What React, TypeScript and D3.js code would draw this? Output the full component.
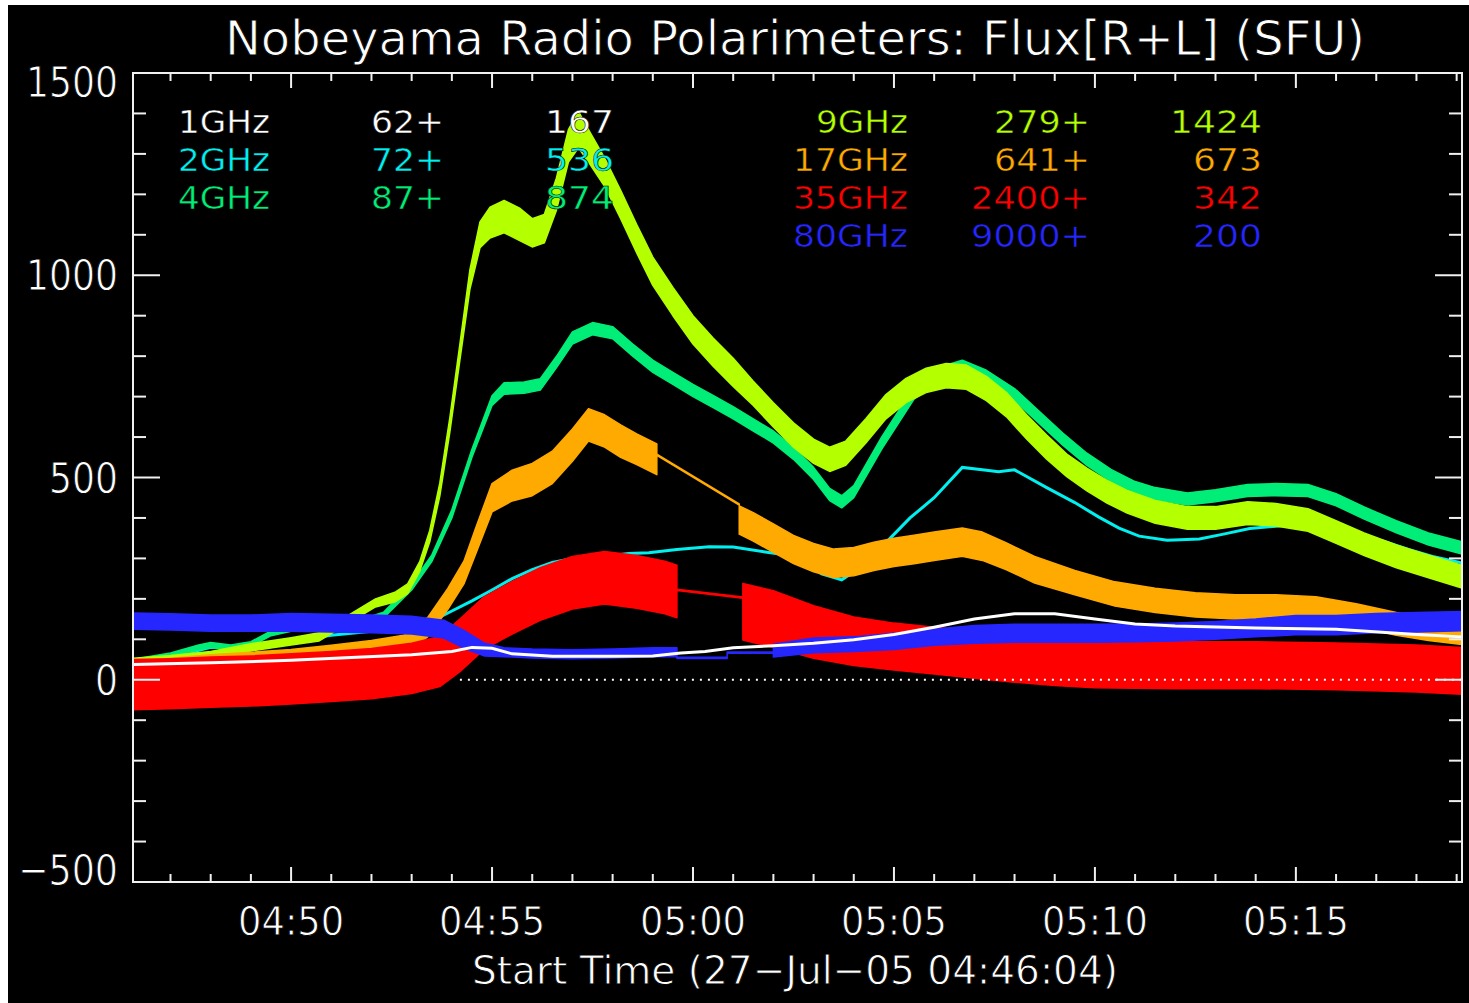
import React from 'react';
import * as d3 from 'd3';

const W = 1469;
const H = 1003;
const plot = { left: 133, right: 1462, top: 73, bottom: 882 };

// time axis: minutes past 04:00 UT on 27-Jul-2005
const day0 = Date.UTC(2005, 6, 27, 4, 0, 0);
const toDate = (m: number) => new Date(day0 + m * 60000);
const tStart = 46 + 4 / 60; // 04:46:04
const tEnd = 79 + 8 / 60; // 05:19:08

// [minute past 04:00, value (SFU), half spread of the noisy trace (SFU)]
const f1GHz: number[][] = [
  [46.07, 38, 1], [48, 42, 1], [50, 48, 1], [51.5, 55, 1], [53, 62, 1], [54.0, 70, 1], [54.5, 80, 1],
  [55.0, 78, 1], [55.5, 64, 1], [56.5, 58, 1], [58, 58, 1], [59.0, 59, 1], [59.7, 66, 1], [60.3, 70, 1],
  [61, 79, 1], [62, 84, 1], [63, 90, 1], [64, 99, 1], [65, 112, 1], [66, 130, 1], [67, 150, 1],
  [68, 163, 1], [69, 163, 1], [70, 150, 1], [71, 138, 1], [72, 133, 1], [74, 128, 1], [76, 125, 1],
  [78, 112, 1], [79.13, 106, 1],
];

const f2GHz: number[][] = [
  [46.07, 42, 2], [47.0, 55, 2], [48.0, 80, 2], [49.0, 82, 2], [50.0, 95, 2], [51.0, 110, 2], [52.0, 120, 2],
  [53.0, 135, 2], [53.6, 150, 2], [54.0, 170, 2], [54.5, 195, 2], [55.0, 222, 2], [55.5, 250, 2],
  [56.0, 272, 2], [56.5, 290, 2], [57.0, 300, 2], [57.7, 304, 2], [58.4, 312, 2], [58.9, 314, 2],
  [59.6, 322, 2], [60.4, 329, 2], [61.0, 328, 2], [61.8, 316, 2], [62.2, 310, 2], [62.7, 297, 2],
  [63.2, 262, 2], [63.7, 247, 2], [64.15, 277, 2], [64.8, 339, 2], [65.4, 400, 2], [66.0, 450, 2],
  [66.7, 525, 2], [67.2, 519, 2], [67.6, 514, 2], [68.0, 519, 2], [68.8, 475, 2], [69.5, 438, 2],
  [70.1, 402, 2], [70.6, 375, 2], [71.1, 355, 2], [71.8, 345, 2], [72.6, 348, 2], [73.2, 360, 2],
  [73.85, 374, 2], [74.8, 382, 2], [75.9, 375, 2], [76.5, 360, 2], [77.2, 342, 2], [77.8, 322, 2],
  [78.4, 305, 2], [79.13, 289, 2],
];

const f4GHz: number[][] = [
  [46.07, 45, 6], [47.0, 60, 6], [47.7, 80, 6], [48.0, 86, 6], [48.5, 80, 6], [49.0, 88, 6], [49.5, 115, 6],
  [50.0, 126, 6], [50.7, 128, 6], [51.5, 135, 6], [52.3, 160, 7], [53.0, 230, 8], [53.5, 300, 8],
  [54.0, 410, 10], [54.5, 560, 10], [55.0, 690, 12], [55.3, 720, 14], [55.8, 722, 14], [56.2, 730, 14],
  [56.6, 785, 14], [57.0, 845, 15], [57.5, 868, 15], [58.0, 858, 15], [58.5, 815, 15], [59.0, 775, 15],
  [59.5, 745, 15], [60.0, 715, 15], [60.5, 688, 15], [61.0, 660, 15], [61.5, 630, 15], [62.0, 600, 15],
  [62.5, 560, 15], [63.0, 510, 15], [63.4, 458, 15], [63.7, 440, 15], [64.0, 465, 15], [64.7, 586, 15],
  [65.5, 709, 15], [66.2, 760, 15], [66.7, 775, 15], [67.3, 750, 15], [68.0, 705, 15], [68.6, 650, 15],
  [69.2, 595, 15], [69.8, 545, 15], [70.4, 505, 15], [71.0, 475, 15], [71.5, 460, 15], [72.3, 447, 15],
  [73.0, 455, 15], [73.8, 468, 15], [74.5, 470, 15], [75.3, 468, 15], [76.0, 445, 15], [76.7, 412, 15],
  [77.5, 378, 15], [78.3, 348, 15], [79.13, 326, 15],
];

const f9GHz: number[][] = [
  [46.07, 45, 8], [47.0, 52, 8], [48.0, 62, 8], [49.0, 80, 9], [50.0, 95, 9], [50.7, 106, 10],
  [51.4, 148, 10], [52.1, 190, 10], [52.6, 205, 12], [52.9, 225, 12], [53.2, 280, 12], [53.45, 355, 14],
  [53.7, 470, 16], [53.95, 630, 18], [54.2, 810, 20], [54.45, 990, 24], [54.7, 1100, 32], [54.95, 1130, 38],
  [55.3, 1145, 40], [55.7, 1125, 40], [56.0, 1105, 35], [56.3, 1115, 35], [56.6, 1200, 40], [56.9, 1320, 40],
  [57.15, 1360, 45], [57.4, 1320, 40], [57.8, 1255, 35], [58.2, 1175, 35], [58.6, 1090, 35], [59.0, 1010, 35],
  [59.5, 935, 35], [60.0, 865, 35], [60.5, 810, 35], [61.0, 760, 35], [61.5, 708, 30], [62.0, 655, 30],
  [62.5, 605, 30], [63.0, 565, 30], [63.4, 545, 30], [63.8, 560, 30], [64.3, 615, 30], [64.8, 675, 30],
  [65.3, 715, 30], [65.8, 740, 30], [66.3, 752, 30], [66.8, 748, 30], [67.3, 720, 30], [67.8, 680, 30],
  [68.3, 625, 30], [68.8, 575, 30], [69.3, 530, 28], [69.8, 495, 28], [70.3, 465, 28], [70.8, 440, 28],
  [71.5, 415, 28], [72.3, 400, 28], [73.0, 400, 28], [73.8, 412, 28], [74.5, 408, 28], [75.3, 395, 28],
  [76.0, 365, 28], [76.7, 335, 28], [77.5, 305, 28], [78.3, 280, 28], [79.13, 255, 28],
];

const f17GHz: number[][] = [
  [46.07, 28, 18], [47, 35, 18], [48, 42, 20], [49, 48, 20], [50, 55, 20], [51, 65, 20], [52, 75, 22],
  [52.8, 88, 22], [53.4, 130, 24], [53.9, 200, 26], [54.3, 265, 28], [54.6, 345, 32], [55.0, 450, 35],
  [55.5, 480, 38], [56.0, 495, 40], [56.5, 525, 40], [57.0, 580, 40], [57.4, 630, 40], [57.8, 615, 40],
  [58.2, 590, 40], [58.6, 570, 38], [59.1, 545, 38],
  [59.1, 556, 1.5], [61.15, 433, 1.5],
  [61.15, 395, 35], [61.5, 378, 35], [62.0, 350, 35], [62.5, 322, 35], [63.0, 302, 35], [63.5, 288, 35],
  [64.0, 292, 35], [64.5, 305, 35], [65.0, 315, 35], [65.5, 322, 35], [66.0, 330, 35], [66.7, 340, 35],
  [67.2, 330, 35], [67.8, 305, 33], [68.5, 272, 33], [69.5, 240, 30], [70.5, 212, 30], [71.5, 196, 30],
  [72.5, 185, 30], [73.5, 180, 30], [74.5, 180, 30], [75.5, 175, 30], [76.5, 160, 28], [77.5, 138, 28],
  [78.3, 125, 28], [79.13, 115, 28],
];

const f35GHz: number[][] = [
  [46.07, -12, 62], [47, -10, 62], [48, -6, 62], [49, -3, 62], [50, 2, 62], [51, 8, 62], [52, 15, 62],
  [53, 28, 62], [53.7, 45, 62], [54.2, 85, 65], [54.8, 140, 65], [55.5, 178, 65], [56.2, 212, 65],
  [57.0, 240, 65], [57.8, 252, 65], [58.6, 242, 65], [59.3, 228, 65], [59.6, 218, 65],
  [59.6, 222, 1.5], [61.24, 203, 1.5],
  [61.24, 168, 70], [62, 150, 70], [63, 118, 65], [64, 95, 60], [65, 82, 58], [66, 72, 58], [67, 62, 58],
  [68, 52, 58], [69, 44, 58], [70, 38, 58], [72, 36, 58], [74, 36, 58], [76, 33, 58], [78, 28, 58],
  [79.13, 22, 58],
];

const f80GHz: number[][] = [
  [46.07, 145, 20], [47, 143, 20], [48, 140, 20], [49, 140, 20], [50, 142, 22], [51, 140, 22], [52, 138, 22],
  [53, 135, 22], [53.8, 125, 22], [54.3, 100, 22], [54.8, 75, 16], [55.3, 68, 11], [56, 65, 11], [57, 63, 11],
  [58, 65, 11], [59, 68, 11], [59.6, 68, 11],
  [59.6, 54, 1.5], [60.85, 54, 1.5], [60.85, 67, 1.5], [62.0, 67, 1.5],
  [62.0, 72, 16], [63, 85, 18], [64, 88, 18], [65, 95, 20], [66, 105, 20], [67, 112, 22], [68, 115, 22],
  [69, 115, 22], [70, 115, 22], [71, 116, 22], [72, 118, 22], [73, 122, 22], [74, 128, 22], [75, 135, 24],
  [76, 135, 24], [77, 140, 24], [78, 142, 24], [79.13, 145, 24],
];

const legendNames = ['1GHz', '2GHz', '4GHz', '9GHz', '17GHz', '35GHz', '80GHz'];
const legendMin = ['62+', '72+', '87+', '279+', '641+', '2400+', '9000+'];
const legendPeak = ['167', '536', '874', '1424', '673', '342', '200'];
const seriesColors = ['#ffffff', '#00f0f0', '#00ee77', '#b4ff00', '#ffaa00', '#ff0000', '#2626ff'];

const titleText = 'Nobeyama Radio Polarimeters: Flux[R+L] (SFU)';
const xAxisTitle = 'Start Time (27\u2212Jul\u221205 04:46:04)';
const yMajorTicks = [-500, 0, 500, 1000, 1500];

const FONT = "'DejaVu Sans', sans-serif";

// approximate glyph advance of the plotting font, px
const charW: Record<string, number> = { G: 24, H: 24, z: 21, '+': 27 };
const estWidth = (s: string) => s.split('').reduce((a, c) => a + (charW[c] ?? 23), 0);

function Label(props: any) {
  const { x, y, text, fill = '#ffffff', anchor = 'start', size = 36, len, sy = 1.1, thin = 0.8 } = props;
  const extra: any = len ? { textLength: len, lengthAdjust: 'spacingAndGlyphs' } : {};
  return (
    <text
      transform={`translate(${x},${y}) scale(1,${sy})`}
      fill={fill}
      stroke="#000000"
      strokeWidth={thin}
      fontSize={size}
      fontFamily={FONT}
      textAnchor={anchor}
      {...extra}
    >
      {text}
    </text>
  );
}

export default function App() {
  const x = d3.scaleUtc().domain([toDate(tStart), toDate(tEnd)]).range([plot.left, plot.right]);
  const y = d3.scaleLinear().domain([-500, 1500]).range([plot.bottom, plot.top]);

  const band = d3
    .area<number[]>()
    .x((d) => x(toDate(d[0])))
    .y0((d) => y(d[1] - d[2]))
    .y1((d) => y(d[1] + d[2]))
    .curve(d3.curveLinear);
  const line = d3
    .line<number[]>()
    .x((d) => x(toDate(d[0])))
    .y((d) => y(d[1]))
    .curve(d3.curveLinear);

  const minuteTicks = x.ticks(d3.utcMinute.every(1) as any);
  const fmt = d3.utcFormat('%H:%M');
  const yMinor = d3.range(-500, 1501, 100);

  const bands = [
    { data: f4GHz, color: seriesColors[2] },
    { data: f9GHz, color: seriesColors[3] },
    { data: f17GHz, color: seriesColors[4] },
    { data: f35GHz, color: seriesColors[5] },
    { data: f80GHz, color: seriesColors[6] },
  ];

  const rowY = (i: number) => 133 + 38 * i;

  return (
    <svg
      width={W}
      height={H}
      style={{ position: 'absolute', left: 0, top: 0, display: 'block' }}
      xmlns="http://www.w3.org/2000/svg"
    >
      <rect x={0} y={0} width={W} height={H} fill="#ffffff" />
      <rect x={8} y={5} width={W - 8} height={H - 5} fill="#000000" />

      <path d={line(f2GHz) || ''} fill="none" stroke={seriesColors[1]} strokeWidth={3} />
      {bands.map((b, i) => (
        <path key={i} d={band(b.data) || ''} fill={b.color} stroke={b.color} strokeWidth={1.5} strokeLinejoin="round" />
      ))}
      <path d={line(f1GHz) || ''} fill="none" stroke={seriesColors[0]} strokeWidth={3} />

      {/* zero level */}
      <line
        x1={x(toDate(54.2))}
        x2={plot.right}
        y1={y(0)}
        y2={y(0)}
        stroke="#ffffff"
        strokeWidth={2}
        strokeDasharray="2,6"
      />

      {/* frame and ticks */}
      <rect
        x={plot.left}
        y={plot.top}
        width={plot.right - plot.left}
        height={plot.bottom - plot.top}
        fill="none"
        stroke="#f0f0f0"
        strokeWidth={2}
      />
      {minuteTicks.map((t, i) => {
        const major = t.getUTCMinutes() % 5 === 0;
        const len = major ? 15 : 8;
        const xx = x(t);
        return (
          <g key={i} stroke="#f0f0f0" strokeWidth={2}>
            <line x1={xx} x2={xx} y1={plot.bottom} y2={plot.bottom - len} />
            <line x1={xx} x2={xx} y1={plot.top} y2={plot.top + len} />
          </g>
        );
      })}
      {yMinor.map((v, i) => {
        const major = v % 500 === 0;
        const len = major ? 27 : 13;
        const yy = y(v);
        return (
          <g key={i} stroke="#f0f0f0" strokeWidth={2}>
            <line x1={plot.left} x2={plot.left + len} y1={yy} y2={yy} />
            <line x1={plot.right} x2={plot.right - len} y1={yy} y2={yy} />
          </g>
        );
      })}

      {/* tick labels */}
      {minuteTicks
        .filter((t) => t.getUTCMinutes() % 5 === 0)
        .map((t, i) => (
          <Label key={i} x={x(t)} y={935} text={fmt(t)} anchor="middle" len={106} />
        ))}
      {yMajorTicks.map((v, i) => {
        const s = v < 0 ? '\u2212' + Math.abs(v) : String(v);
        return (
          <Label
            key={i}
            x={118}
            y={Math.min(Math.max(y(v), 82), 870) + 15}
            text={s}
            anchor="end"
            sy={1.2}
            len={v < 0 ? 100 : estWidth(s)}
          />
        );
      })}

      {/* titles */}
      <Label x={795} y={55} text={titleText} anchor="middle" size={40} sy={1.2} len={1140} />
      <Label x={795} y={984} text={xAxisTitle} anchor="middle" size={36} len={646} />

      {/* legend */}
      {legendNames.map((name, i) => {
        const left = i < 3;
        const row = left ? i : i - 3;
        const yy = rowY(row);
        const c = seriesColors[i];
        const common = { fill: c, size: 32, sy: 1.0, thin: 0.5 };
        return (
          <g key={i}>
            {left ? (
              <Label x={178} y={yy} text={name} {...common} len={estWidth(name)} />
            ) : (
              <Label x={908} y={yy} text={name} anchor="end" {...common} len={estWidth(name)} />
            )}
            <Label
              x={left ? 444 : 1090}
              y={yy}
              text={legendMin[i]}
              anchor="end"
              {...common}
              len={estWidth(legendMin[i])}
            />
            <Label
              x={left ? 614 : 1262}
              y={yy}
              text={legendPeak[i]}
              anchor="end"
              {...common}
              len={estWidth(legendPeak[i])}
            />
          </g>
        );
      })}
    </svg>
  );
}
